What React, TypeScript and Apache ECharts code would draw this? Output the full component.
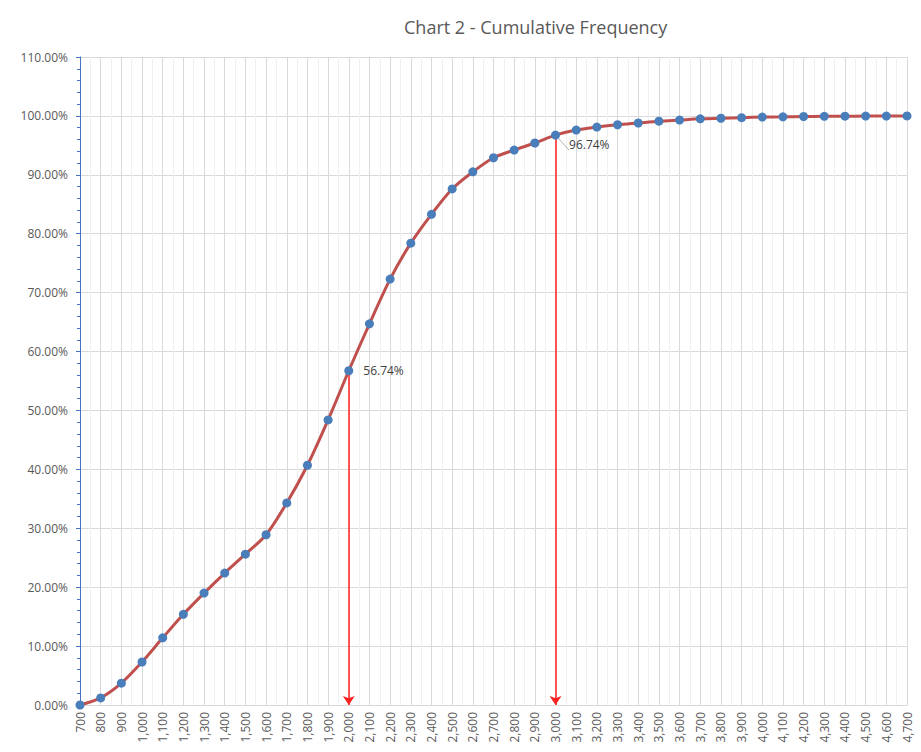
import React, { useEffect, useRef } from "react";
import * as echarts from "echarts";

const xValues: number[] = [
  700, 800, 900, 1000, 1100, 1200, 1300, 1400, 1500, 1600, 1700, 1800, 1900, 2000,
  2100, 2200, 2300, 2400, 2500, 2600, 2700, 2800, 2900, 3000, 3100, 3200, 3300,
  3400, 3500, 3600, 3700, 3800, 3900, 4000, 4100, 4200, 4300, 4400, 4500, 4600, 4700,
];
const cumulative: number[] = [
  0.0, 1.2, 3.7, 7.3, 11.4, 15.4, 19.0, 22.4, 25.6, 28.9, 34.3, 40.7, 48.4, 56.74,
  64.7, 72.3, 78.4, 83.3, 87.6, 90.5, 92.9, 94.2, 95.4, 96.74, 97.6, 98.1, 98.5,
  98.8, 99.1, 99.3, 99.5, 99.6, 99.7, 99.8, 99.85, 99.9, 99.93, 99.95, 99.97, 99.98, 100.0,
];
const highlighted: number[] = [2000, 3000];
const titleText = "Chart 2 - Cumulative Frequency";

const fmtComma = (v: number) => v.toLocaleString("en-US");

export default function App() {
  const ref = useRef<HTMLDivElement>(null);
  useEffect(() => {
    document.body.style.margin = "0";
    if (!ref.current) return;
    const chart = echarts.init(ref.current, null, { renderer: "svg" });
    const seriesData = xValues.map((x, i) => {
      const item: any = { value: [x, cumulative[i]] };
      if (x === 2000) {
        item.label = {
          show: true,
          position: "right",
          distance: 10,
          formatter: (p: any) => p.value[1].toFixed(2) + "%",
        };
      }
      if (x === 3000) {
        item.label = {
          show: true,
          position: "right",
          offset: [4, 9],
          formatter: (p: any) => p.value[1].toFixed(2) + "%",
        };
        item.labelLine = { show: true, lineStyle: { color: "#b0b0b0", width: 1 } };
      }
      return item;
    });
    const markData = highlighted.map((x) => {
      const i = xValues.indexOf(x);
      return [{ coord: [x, cumulative[i]] }, { coord: [x, 0] }];
    });
    chart.setOption({
      animation: false,
      backgroundColor: "#ffffff",
      title: {
        text: titleText,
        left: 399,
        top: 13,
        textStyle: {
          fontFamily: "Open Sans",
          fontSize: 18,
          fontWeight: "normal",
          color: "#595959",
        },
      },
      grid: { left: 80, right: 14, top: 57, bottom: 47, containLabel: false },
      xAxis: {
        type: "value",
        min: 700,
        max: 4700,
        interval: 100,
        axisLine: { show: true, onZero: false, lineStyle: { color: "#d9d9d9" } },
        axisTick: { show: false },
        axisLabel: {
          rotate: 90,
          formatter: (v: number) => fmtComma(v),
          color: "#595959",
          fontFamily: "Open Sans",
          fontSize: 12,
          margin: 7,
          showMaxLabel: true,
          showMinLabel: true,
        },
        splitLine: { show: true, lineStyle: { color: "#d9d9d9", width: 1 } },
        minorTick: { show: false, splitNumber: 2 },
        minorSplitLine: { show: true, lineStyle: { color: "#f0f0f0", width: 1 } },
      },
      yAxis: {
        type: "value",
        min: 0,
        max: 110,
        interval: 10,
        axisLine: { show: true, lineStyle: { color: "#4472c4", width: 1 } },
        axisTick: { show: true, length: 4, lineStyle: { color: "#4472c4" } },
        minorTick: { show: true, splitNumber: 5, length: 3, lineStyle: { color: "#4472c4" } },
        axisLabel: {
          formatter: (v: number) => v.toFixed(2) + "%",
          color: "#595959",
          fontFamily: "Open Sans",
          fontSize: 12,
          margin: 12,
        },
        splitLine: { show: true, lineStyle: { color: "#d9d9d9", width: 1 } },
      },
      series: [
        {
          type: "line",
          data: seriesData,
          smooth: 0.3,
          symbol: "circle",
          symbolSize: 9,
          lineStyle: { color: "#c0504d", width: 3 },
          itemStyle: { color: "#4a7ebb", borderWidth: 0 },
          label: {
            color: "#404040",
            fontFamily: "Open Sans",
            fontSize: 12,
          },
          z: 3,
          markLine: {
            silent: true,
            symbol: ["none", "arrow"],
            symbolSize: [9, 9],
            label: { show: false },
            lineStyle: { color: "#ff2020", width: 1.5, type: "solid" },
            data: markData,
            z: 2,
          },
        },
      ],
    });
    return () => chart.dispose();
  }, []);
  return <div ref={ref} style={{ width: 921, height: 752 }} />;
}
